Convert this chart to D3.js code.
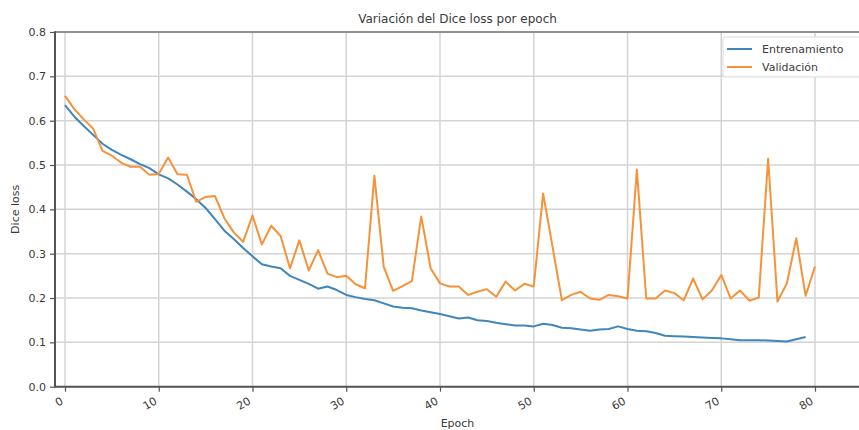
<!DOCTYPE html>
<html><head><meta charset="utf-8">
<script src="https://cdn.jsdelivr.net/npm/d3@7"></script>
<style>
html,body{margin:0;padding:0;background:#fff;}
svg{display:block;font-family:"DejaVu Sans",sans-serif;}
</style></head>
<body><svg id="chart" width="859" height="430"></svg>
<script>
const title = "Variación del Dice loss por epoch";
const xLabel = "Epoch";
const yLabel = "Dice loss";
const seriesNames = ["Entrenamiento", "Validación"];
const seriesColors = ["#3f86bb", "#f5923a"];
const xTicks = [0, 10, 20, 30, 40, 50, 60, 70, 80];
const yTicks = [0.0, 0.1, 0.2, 0.3, 0.4, 0.5, 0.6, 0.7, 0.8];

const trainLoss = [0.635,0.609,0.588,0.568,0.548,0.534,0.523,0.513,0.502,0.493,
0.479,0.470,0.456,0.440,0.423,0.403,0.378,0.352,0.333,0.313,
0.294,0.276,0.271,0.267,0.250,0.241,0.232,0.221,0.226,0.218,
0.207,0.202,0.198,0.195,0.188,0.181,0.178,0.177,0.172,0.168,
0.164,0.159,0.154,0.156,0.150,0.148,0.144,0.141,0.138,0.138,
0.136,0.142,0.139,0.133,0.132,0.129,0.126,0.129,0.130,0.136,
0.130,0.126,0.125,0.121,0.115,0.114,0.113,0.112,0.111,0.110,
0.109,0.107,0.105,0.105,0.105,0.104,0.103,0.102,0.107,0.112];

const valLoss = [0.656,0.626,0.603,0.582,0.532,0.521,0.505,0.496,0.496,0.478,
0.480,0.517,0.479,0.478,0.417,0.428,0.430,0.380,0.348,0.327,
0.386,0.321,0.363,0.340,0.267,0.330,0.262,0.308,0.255,0.247,
0.250,0.231,0.222,0.476,0.270,0.216,0.227,0.238,0.384,0.267,
0.233,0.226,0.226,0.207,0.214,0.220,0.203,0.237,0.217,0.232,
0.226,0.436,0.316,0.195,0.207,0.214,0.199,0.196,0.207,0.204,
0.199,0.490,0.199,0.199,0.217,0.211,0.195,0.244,0.197,0.217,
0.252,0.199,0.217,0.194,0.201,0.514,0.192,0.233,0.335,0.205,0.271];

const svg = d3.select("#chart");
const L = 55, R = 860, T = 32, B = 386.7;
const x = d3.scaleLinear().domain([-1.067, 84.8]).range([L, R]);
const y = d3.scaleLinear().domain([0, 0.8]).range([B, T]);
const textColor = "#3a3a3a";

// grid
const g = svg.append("g");
g.selectAll(".gx").data(xTicks).enter().append("line")
  .attr("x1", d => x(d)).attr("x2", d => x(d)).attr("y1", T).attr("y2", B)
  .attr("stroke", "#d4d4d4").attr("stroke-width", 1.5);
g.selectAll(".gy").data(yTicks).enter().append("line")
  .attr("x1", L).attr("x2", R).attr("y1", d => y(d)).attr("y2", d => y(d))
  .attr("stroke", "#d4d4d4").attr("stroke-width", 1.5);

// lines
const line = d3.line().x((d, i) => x(i)).y(d => y(d));
svg.append("path").datum(trainLoss).attr("d", line)
  .attr("fill", "none").attr("stroke", seriesColors[0]).attr("stroke-width", 2)
  .attr("stroke-linejoin", "round");
svg.append("path").datum(valLoss).attr("d", line)
  .attr("fill", "none").attr("stroke", seriesColors[1]).attr("stroke-width", 2)
  .attr("stroke-linejoin", "round");

// spines
svg.append("line").attr("x1", L).attr("x2", R).attr("y1", T).attr("y2", T)
  .attr("stroke", "#777").attr("stroke-width", 1.5);
svg.append("line").attr("x1", L).attr("x2", L).attr("y1", T - 0.75).attr("y2", B + 0.75)
  .attr("stroke", "#555").attr("stroke-width", 2);
svg.append("line").attr("x1", L).attr("x2", R).attr("y1", B).attr("y2", B)
  .attr("stroke", "#555").attr("stroke-width", 2);

// y axis
const yAxis = d3.axisLeft(y).tickValues(yTicks).tickFormat(d3.format(".1f")).tickSize(5).tickPadding(4);
const ya = svg.append("g").attr("transform", `translate(${L},0)`).call(yAxis);
ya.select(".domain").remove();
ya.selectAll(".tick line").attr("stroke", "#555").attr("stroke-width", 1.2);
ya.selectAll(".tick text").attr("fill", textColor).style("font-size", "11px")
  .style("font-family", "DejaVu Sans");

// x axis
const xAxis = d3.axisBottom(x).tickValues(xTicks).tickFormat(d3.format("d")).tickSize(5);
const xa = svg.append("g").attr("transform", `translate(0,${B})`).call(xAxis);
xa.select(".domain").remove();
xa.selectAll(".tick line").attr("stroke", "#555").attr("stroke-width", 1.2);
xa.selectAll(".tick text").attr("fill", textColor).style("font-size", "11px")
  .style("font-family", "DejaVu Sans")
  .attr("text-anchor", "end").attr("y", 0).attr("dy", 0)
  .attr("transform", "translate(-1.5,16.5) rotate(-30)");

// labels
svg.append("text").attr("x", (L + R) / 2).attr("y", 23).attr("text-anchor", "middle")
  .attr("fill", textColor).style("font-size", "12px").text(title);
svg.append("text").attr("x", (L + R) / 2).attr("y", 427).attr("text-anchor", "middle")
  .attr("fill", textColor).style("font-size", "11px").text(xLabel);
svg.append("text").attr("transform", `translate(19,${(T + B) / 2}) rotate(-90)`)
  .attr("text-anchor", "middle").attr("fill", textColor).style("font-size", "11px").text(yLabel);

// legend
const lg = svg.append("g").attr("transform", "translate(723,37)");
lg.append("rect").attr("x", 0).attr("y", 0).attr("width", 137).attr("height", 40).attr("rx", 2)
  .attr("fill", "#fff").attr("fill-opacity", 0.85).attr("stroke", "#dcdcdc").attr("stroke-width", 1);
seriesNames.forEach((n, i) => {
  const yy = 12 + i * 18;
  lg.append("line").attr("x1", 4).attr("x2", 29).attr("y1", yy).attr("y2", yy)
    .attr("stroke", seriesColors[i]).attr("stroke-width", 2);
  lg.append("text").attr("x", 39).attr("y", yy + 4).attr("fill", textColor)
    .style("font-size", "11px").text(n);
});
</script></body></html>
